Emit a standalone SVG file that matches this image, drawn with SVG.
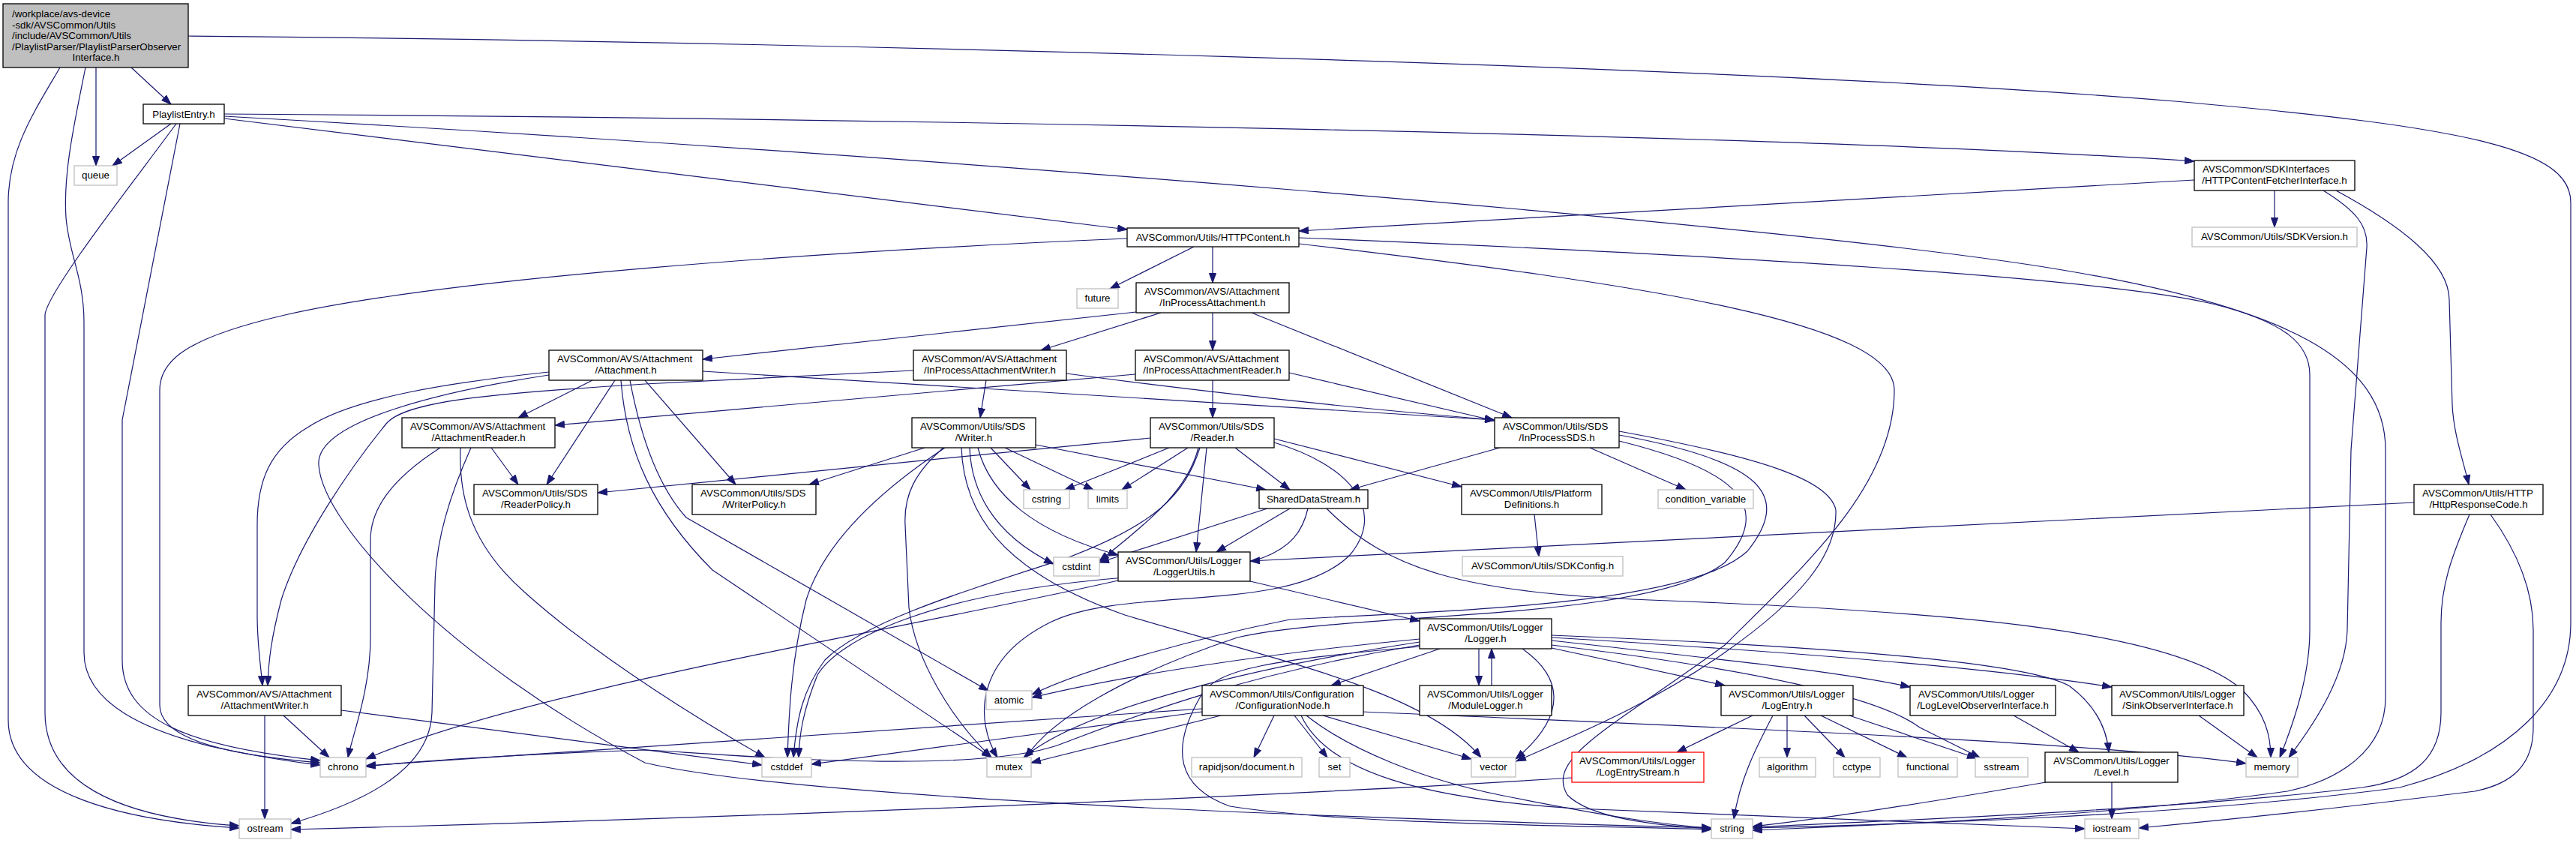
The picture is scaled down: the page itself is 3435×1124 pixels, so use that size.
<svg xmlns="http://www.w3.org/2000/svg" width="3435" height="1124" viewBox="0 0 3435 1124">
<defs>
<marker id="a" markerWidth="14" markerHeight="10" refX="13" refY="5" orient="auto" markerUnits="userSpaceOnUse"><path d="M0.5,0.5 L13,5 L0.5,9.5 z" fill="#191970" stroke="#191970" stroke-width="1"/></marker>
<style>
rect{fill:#fff;stroke:#000;stroke-width:1.3}
.g rect{stroke:#bfbfbf}
.r rect{stroke:#ff0000}
.root rect{fill:#bfbfbf;stroke:#000}
text{font-family:"Liberation Sans",Arial,Helvetica,sans-serif;font-size:13.33px;fill:#000}
.c{text-anchor:middle}
.e path{fill:none;stroke:#191970;stroke-width:1.2;marker-end:url(#a)}
</style>
</defs>
<rect x="0" y="0" width="3435" height="1124" style="fill:#fff;stroke:none"/>
<g class="e" id="edges">
<path d="M175,90 L228,139"/>
<path d="M128,90 L128,221"/>
<path d="M114,90 C100,160 84,230 88,290 C92,340 112,370 112,430 L112,870 C112,940 200,975 280,995 C340,1008 390,1016 427,1020"/>
<path d="M80,90 C45,150 11,200 11,270 L11,960 C11,1060 170,1095 319,1104"/>
<path d="M251,48 C1000,55 2300,85 2900,135 C3300,170 3428,200 3428,270 L3428,830 C3428,930 3350,1010 3200,1050 C2900,1090 2500,1100 2337,1104"/>
<path d="M228,165 L150,221"/>
<path d="M235,165 C180,240 62,390 60,420 L60,950 C60,1040 150,1090 319,1101"/>
<path d="M240,165 L163,560 L163,880 C163,960 250,995 427,1014"/>
<path d="M299,152 C1200,158 2400,180 2926,215"/>
<path d="M299,155 C1200,205 2400,300 2750,360 C3050,410 3181,480 3181,600 L3181,930 C3181,1000 3120,1040 3050,1055 C2800,1090 2500,1100 2337,1107"/>
<path d="M299,158 L1503,306"/>
<path d="M2926,240 L1732,308"/>
<path d="M3033,254 L3033,303"/>
<path d="M3098,254 C3140,280 3158,300 3156,330 L3135,600 L3130,840 C3128,900 3090,960 3052,1010"/>
<path d="M3115,254 C3200,300 3266,350 3266,400 L3270,540 C3272,580 3285,615 3292,646"/>
<path d="M1503,318 C1100,335 600,370 380,420 C250,450 213,480 213,520 L213,940 C213,990 320,1008 427,1017"/>
<path d="M1592,329 L1480,385"/>
<path d="M1617,329 L1617,377"/>
<path d="M1732,317 C2300,340 2800,370 2950,405 C3050,430 3080,460 3080,500 L3080,840 C3080,900 3060,960 3040,1010"/>
<path d="M1732,325 C2200,380 2526,430 2526,520 C2526,650 2400,760 2300,860 C2150,970 2060,1010 2090,1060 C2120,1090 2200,1100 2282,1105"/>
<path d="M1515,416 L937,479"/>
<path d="M1548,417 L1388,467"/>
<path d="M1617,417 L1617,467"/>
<path d="M1669,417 L2016,557"/>
<path d="M790,507 L691,557"/>
<path d="M820,507 L729,646"/>
<path d="M732,496 C600,510 470,530 410,570 C360,600 343,640 343,700 L343,820 C343,860 348,890 350,914"/>
<path d="M860,507 L981,646"/>
<path d="M840,507 C850,560 870,640 915,690 L1318,921"/>
<path d="M828,507 C835,600 870,680 950,760 L1322,1010"/>
<path d="M937,495 L1993,560"/>
<path d="M732,500 C600,520 420,560 425,620 C430,700 600,880 860,1017 C1000,1050 1400,1080 2282,1104"/>
<path d="M1218,494 L860,512 C650,525 540,535 515,565 C470,620 400,720 375,800 C362,850 358,880 357,914"/>
<path d="M1315,507 L1307,557"/>
<path d="M1422,498 C1700,535 1900,552 1993,560"/>
<path d="M1514,499 L740,567"/>
<path d="M1617,507 L1617,557"/>
<path d="M1719,497 L1993,561"/>
<path d="M655,597 L691,646"/>
<path d="M587,597 C520,640 494,680 494,720 L494,850 C494,920 470,980 464,1010"/>
<path d="M628,597 C600,660 581,720 580,780 L576,950 C574,1010 520,1060 388,1098"/>
<path d="M614,597 C612,650 620,720 700,790 C800,880 950,970 1020,1010"/>
<path d="M378,954 L439,1010"/>
<path d="M353,954 L353,1092"/>
<path d="M455,947 L1016,1020"/>
<path d="M1233,597 L1079,646"/>
<path d="M1321,597 L1374,653"/>
<path d="M1340,597 L1458,653"/>
<path d="M1381,593 L1688,653"/>
<path d="M1293,597 C1295,650 1320,710 1405,752"/>
<path d="M1304,597 C1320,660 1380,710 1491,740"/>
<path d="M1260,597 C1180,650 1100,720 1075,800 C1055,880 1052,950 1050,1010"/>
<path d="M1258,597 C1220,630 1205,660 1207,700 L1212,810 C1220,880 1270,960 1322,1010"/>
<path d="M1282,597 C1285,680 1330,760 1500,820 C1700,880 1900,920 1975,1010"/>
<path d="M1534,584 L797,657"/>
<path d="M1559,597 L1420,653"/>
<path d="M1584,597 L1496,653"/>
<path d="M1598,597 C1585,650 1540,690 1466,748"/>
<path d="M1609,597 L1595,736"/>
<path d="M1647,597 L1720,653"/>
<path d="M1699,585 L1949,649"/>
<path d="M1600,597 C1580,660 1540,700 1420,745 C1280,790 1150,830 1100,880 C1070,920 1062,960 1058,1010"/>
<path d="M1699,590 C1800,620 1850,680 1800,740 C1720,820 1500,780 1400,830 C1300,880 1300,960 1330,1010"/>
<path d="M2000,597 L1800,653"/>
<path d="M2120,597 L2248,653"/>
<path d="M2159,580 C2350,615 2390,660 2330,735 C2250,810 1900,815 1720,826 C1600,850 1450,890 1376,926"/>
<path d="M2159,588 C2330,630 2360,680 2300,750 C2200,830 1800,815 1650,850 C1500,900 1400,960 1368,1010"/>
<path d="M2159,575 C2350,610 2440,640 2448,680 C2450,740 2400,800 2300,870 C2200,940 2100,980 2022,1015"/>
<path d="M1690,678 L1466,750"/>
<path d="M1720,678 L1622,736"/>
<path d="M1744,678 C1730,740 1680,760 1500,770 C1250,790 1120,850 1090,900 C1070,950 1066,980 1065,1010"/>
<path d="M1769,678 C1850,760 1950,790 2200,800 C2600,815 2900,840 2990,920 C3020,950 3028,980 3028,1010"/>
<path d="M1667,775 L1893,828"/>
<path d="M1491,774 C1200,840 700,920 488,1012"/>
<path d="M1920,865 L1775,914"/>
<path d="M1972,865 L1972,914"/>
<path d="M1989,914 L1989,865"/>
<path d="M2030,865 C2080,900 2095,950 2021,1012"/>
<path d="M2069,864 L2300,914"/>
<path d="M2069,854 C2300,880 2450,895 2547,916"/>
<path d="M2069,850 C2400,870 2650,890 2816,916"/>
<path d="M2069,847 C2400,860 2700,880 2760,915 C2800,945 2810,980 2812,1003"/>
<path d="M2069,860 C2400,900 2520,940 2560,970 C2600,990 2620,1000 2640,1010"/>
<path d="M1893,852 C1700,870 1500,900 1376,930"/>
<path d="M1893,856 C1700,885 1450,940 1365,1010"/>
<path d="M1893,860 C1650,900 1500,960 1420,990 C1300,1040 900,1000 860,1000 C700,1005 550,1015 488,1022"/>
<path d="M1893,862 C1700,880 1620,890 1600,930 C1560,1000 1570,1050 1640,1075 C1800,1100 2100,1100 2282,1106"/>
<path d="M1699,954 L1672,1010"/>
<path d="M1726,954 L1770,1010"/>
<path d="M1764,954 L1962,1012"/>
<path d="M1742,954 C1800,1000 1900,1040 2000,1060 C2150,1090 2220,1100 2282,1104"/>
<path d="M1735,954 C1770,1030 1900,1065 2100,1078 C2400,1092 2650,1100 2780,1105"/>
<path d="M1817,949 C2300,970 2800,990 2995,1018"/>
<path d="M1628,954 L1375,1017"/>
<path d="M1603,949 L1082,1019"/>
<path d="M1603,945 L488,1021"/>
<path d="M2337,954 L2236,1003"/>
<path d="M2364,954 C2340,1000 2320,1040 2312,1092"/>
<path d="M2383,954 L2383,1010"/>
<path d="M2406,954 L2460,1010"/>
<path d="M2428,954 L2543,1010"/>
<path d="M2466,954 L2636,1011"/>
<path d="M2685,954 L2772,1003"/>
<path d="M2932,954 L3010,1010"/>
<path d="M2816,1043 L2816,1092"/>
<path d="M2728,1043 C2600,1065 2450,1090 2337,1102"/>
<path d="M3293,686 C3270,740 3255,780 3255,830 L3255,950 C3255,1010 3220,1040 3150,1050 C2900,1080 2500,1095 2337,1103"/>
<path d="M3321,686 C3360,740 3378,790 3378,840 L3378,970 C3378,1020 3350,1045 3300,1055 C3100,1080 2950,1095 2852,1104"/>
<path d="M3219,670 L1667,748"/>
<path d="M2096,1037 C1700,1062 1000,1090 388,1106"/>
<path d="M2046,686 L2052,742"/>
</g>
<g id="n0" class="root"><rect x="4" y="5" width="247" height="85"/>
<text x="16" y="22.5">/workplace/avs-device</text>
<text x="16" y="37.5">-sdk/AVSCommon/Utils</text>
<text x="16" y="52">/include/AVSCommon/Utils</text>
<text x="16" y="66.5">/PlaylistParser/PlaylistParserObserver</text>
<text class="c" x="128" y="81">Interface.h</text></g>
<g id="n1"><rect x="191" y="139" width="108" height="26"/><text class="c" x="245" y="156.5">PlaylistEntry.h</text></g>
<g id="n2" class="g"><rect x="99" y="221" width="57" height="26"/><text class="c" x="127.5" y="238">queue</text></g>
<g id="n3"><rect x="2926" y="214" width="214" height="40"/><text x="2937" y="230">AVSCommon/SDKInterfaces</text><text class="c" x="3033" y="245">/HTTPContentFetcherInterface.h</text></g>
<g id="n4" class="g"><rect x="2923" y="303" width="220" height="26"/><text class="c" x="3033" y="320">AVSCommon/Utils/SDKVersion.h</text></g>
<g id="n5"><rect x="1503" y="304" width="229" height="25"/><text class="c" x="1617.5" y="321">AVSCommon/Utils/HTTPContent.h</text></g>
<g id="n6" class="g"><rect x="1436" y="385" width="55" height="26"/><text class="c" x="1463.5" y="402">future</text></g>
<g id="n7"><rect x="1515" y="377" width="204" height="40"/><text x="1526" y="393">AVSCommon/AVS/Attachment</text><text class="c" x="1617" y="408">/InProcessAttachment.h</text></g>
<g id="n8"><rect x="732" y="467" width="205" height="40"/><text x="743" y="483">AVSCommon/AVS/Attachment</text><text class="c" x="834.5" y="498">/Attachment.h</text></g>
<g id="n9"><rect x="1218" y="467" width="204" height="40"/><text x="1229" y="483">AVSCommon/AVS/Attachment</text><text class="c" x="1320" y="498">/InProcessAttachmentWriter.h</text></g>
<g id="n10"><rect x="1514" y="467" width="205" height="40"/><text x="1525" y="483">AVSCommon/AVS/Attachment</text><text class="c" x="1616.5" y="498">/InProcessAttachmentReader.h</text></g>
<g id="n11"><rect x="536" y="557" width="204" height="40"/><text x="547" y="573">AVSCommon/AVS/Attachment</text><text class="c" x="638" y="588">/AttachmentReader.h</text></g>
<g id="n12"><rect x="1216" y="557" width="165" height="40"/><text x="1227" y="573">AVSCommon/Utils/SDS</text><text class="c" x="1298.5" y="588">/Writer.h</text></g>
<g id="n13"><rect x="1534" y="557" width="165" height="40"/><text x="1545" y="573">AVSCommon/Utils/SDS</text><text class="c" x="1616.5" y="588">/Reader.h</text></g>
<g id="n14"><rect x="1993" y="557" width="166" height="40"/><text x="2004" y="573">AVSCommon/Utils/SDS</text><text class="c" x="2076" y="588">/InProcessSDS.h</text></g>
<g id="n15"><rect x="632" y="646" width="165" height="40"/><text x="643" y="662">AVSCommon/Utils/SDS</text><text class="c" x="714.5" y="677">/ReaderPolicy.h</text></g>
<g id="n16"><rect x="923" y="646" width="165" height="40"/><text x="934" y="662">AVSCommon/Utils/SDS</text><text class="c" x="1005.5" y="677">/WriterPolicy.h</text></g>
<g id="n17" class="g"><rect x="1365" y="653" width="61" height="25"/><text class="c" x="1395.5" y="670">cstring</text></g>
<g id="n18" class="g"><rect x="1451" y="653" width="52" height="25"/><text class="c" x="1477" y="670">limits</text></g>
<g id="n19"><rect x="1679" y="653" width="145" height="25"/><text class="c" x="1751.5" y="670">SharedDataStream.h</text></g>
<g id="n20"><rect x="1949" y="646" width="187" height="40"/><text x="1960" y="662">AVSCommon/Utils/Platform</text><text class="c" x="2042.5" y="677">Definitions.h</text></g>
<g id="n21" class="g"><rect x="2211" y="653" width="127" height="25"/><text class="c" x="2274.5" y="670">condition_variable</text></g>
<g id="n22"><rect x="3219" y="646" width="172" height="40"/><text x="3230" y="662">AVSCommon/Utils/HTTP</text><text class="c" x="3305" y="677">/HttpResponseCode.h</text></g>
<g id="n23" class="g"><rect x="1405" y="743" width="61" height="25"/><text class="c" x="1435.5" y="760">cstdint</text></g>
<g id="n24"><rect x="1491" y="736" width="176" height="39"/><text x="1501" y="752">AVSCommon/Utils/Logger</text><text class="c" x="1579" y="767">/LoggerUtils.h</text></g>
<g id="n25" class="g"><rect x="1950" y="742" width="214" height="26"/><text class="c" x="2057" y="759">AVSCommon/Utils/SDKConfig.h</text></g>
<g id="n26"><rect x="1893" y="825" width="176" height="40"/><text x="1903" y="841">AVSCommon/Utils/Logger</text><text class="c" x="1981" y="856">/Logger.h</text></g>
<g id="n27"><rect x="251" y="914" width="204" height="40"/><text x="262" y="930">AVSCommon/AVS/Attachment</text><text class="c" x="353" y="945">/AttachmentWriter.h</text></g>
<g id="n28" class="g"><rect x="1315" y="921" width="61" height="25"/><text class="c" x="1345.5" y="938">atomic</text></g>
<g id="n29"><rect x="1603" y="914" width="215" height="40"/><text x="1613" y="930">AVSCommon/Utils/Configuration</text><text class="c" x="1710.5" y="945">/ConfigurationNode.h</text></g>
<g id="n30"><rect x="1893" y="914" width="176" height="40"/><text x="1903" y="930">AVSCommon/Utils/Logger</text><text class="c" x="1981" y="945">/ModuleLogger.h</text></g>
<g id="n31"><rect x="2295" y="914" width="176" height="40"/><text x="2305" y="930">AVSCommon/Utils/Logger</text><text class="c" x="2383" y="945">/LogEntry.h</text></g>
<g id="n32"><rect x="2547" y="914" width="194" height="40"/><text x="2558" y="930">AVSCommon/Utils/Logger</text><text class="c" x="2644" y="945">/LogLevelObserverInterface.h</text></g>
<g id="n33"><rect x="2816" y="914" width="176" height="40"/><text x="2826" y="930">AVSCommon/Utils/Logger</text><text class="c" x="2904" y="945">/SinkObserverInterface.h</text></g>
<g id="n34" class="g"><rect x="427" y="1010" width="61" height="26"/><text class="c" x="457.5" y="1027">chrono</text></g>
<g id="n35" class="g"><rect x="1016" y="1010" width="66" height="26"/><text class="c" x="1049" y="1027">cstddef</text></g>
<g id="n36" class="g"><rect x="1316" y="1010" width="59" height="26"/><text class="c" x="1345.5" y="1027">mutex</text></g>
<g id="n37" class="g"><rect x="1589" y="1010" width="147" height="26"/><text class="c" x="1662.5" y="1027">rapidjson/document.h</text></g>
<g id="n38" class="g"><rect x="1759" y="1010" width="41" height="26"/><text class="c" x="1779.5" y="1027">set</text></g>
<g id="n39" class="g"><rect x="1962" y="1010" width="59" height="26"/><text class="c" x="1991.5" y="1027">vector</text></g>
<g id="n40" class="r"><rect x="2096" y="1003" width="176" height="40"/><text x="2106" y="1019">AVSCommon/Utils/Logger</text><text class="c" x="2184" y="1034">/LogEntryStream.h</text></g>
<g id="n41" class="g"><rect x="2346" y="1010" width="75" height="26"/><text class="c" x="2383.5" y="1027">algorithm</text></g>
<g id="n42" class="g"><rect x="2445" y="1010" width="62" height="26"/><text class="c" x="2476" y="1027">cctype</text></g>
<g id="n43" class="g"><rect x="2531" y="1010" width="79" height="26"/><text class="c" x="2570.5" y="1027">functional</text></g>
<g id="n44" class="g"><rect x="2634" y="1010" width="70" height="26"/><text class="c" x="2669" y="1027">sstream</text></g>
<g id="n45"><rect x="2727" y="1003" width="177" height="40"/><text x="2738" y="1019">AVSCommon/Utils/Logger</text><text class="c" x="2815.5" y="1034">/Level.h</text></g>
<g id="n46" class="g"><rect x="2995" y="1010" width="69" height="26"/><text class="c" x="3029.5" y="1027">memory</text></g>
<g id="n47" class="g"><rect x="319" y="1092" width="69" height="26"/><text class="c" x="353.5" y="1109">ostream</text></g>
<g id="n48" class="g"><rect x="2282" y="1092" width="55" height="26"/><text class="c" x="2309.5" y="1109">string</text></g>
<g id="n49" class="g"><rect x="2780" y="1092" width="72" height="26"/><text class="c" x="2816" y="1109">iostream</text></g>
</svg>
